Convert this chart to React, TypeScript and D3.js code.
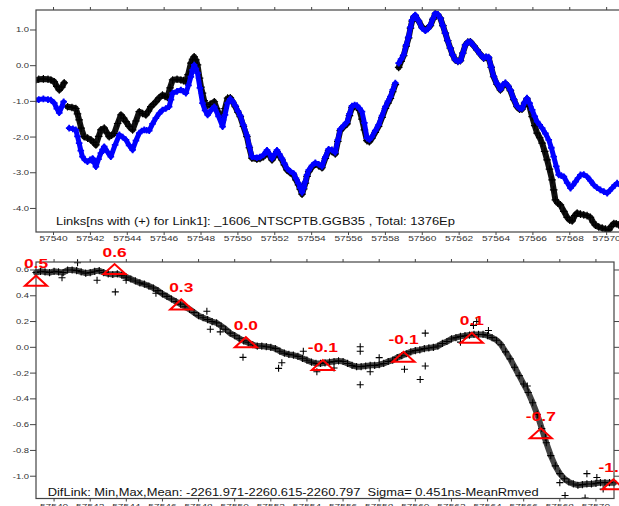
import React from "react";
import * as d3 from "d3";

// ---------- data (MJD day, ns) ----------
const link1: [number, number][] = [
  [57538.98,-0.42],[57539.2,-0.38],[57539.45,-0.37],[57539.7,-0.38],[57539.86,-0.40],[57540.04,-0.45],[57540.18,-0.58],[57540.31,-0.68],[57540.45,-0.6],[57540.58,-0.48],
  [57540.76,-1.15],[57541.0,-1.17],[57541.21,-1.2],[57541.3,-1.35],[57541.39,-1.52],[57541.5,-1.75],[57541.66,-1.99],[57541.85,-2.03],[57542.03,-2.08],[57542.18,-2.15],[57542.3,-2.22],[57542.45,-1.98],[57542.57,-1.8],[57542.75,-1.75],[57542.9,-1.88],[57543.02,-1.99],[57543.15,-1.95],[57543.29,-1.9],[57543.48,-1.62],[57543.66,-1.38],[57543.8,-1.47],[57543.93,-1.57],[57544.1,-1.7],[57544.29,-1.8],[57544.47,-1.55],[57544.65,-1.29],[57544.83,-1.34],[57545.01,-1.38],[57545.15,-1.27],[57545.28,-1.15],[57545.42,-1.08],[57545.55,-1.01],[57545.73,-0.9],[57545.91,-0.82],[57546.05,-0.86],[57546.18,-0.89],[57546.32,-0.62],[57546.46,-0.4],[57546.7,-0.38],[57546.91,-0.4],[57547.05,-0.42],[57547.18,-0.45],[57547.3,-0.25],[57547.45,0.07],[57547.54,0.18],[57547.63,0.25],[57547.72,0.16],[57547.81,0.02],[57547.92,-0.35],[57548.0,-0.6],[57548.08,-0.77],[57548.17,-0.98],[57548.27,-1.15],[57548.5,-1.08],[57548.72,-1.01],[57548.85,-1.2],[57549.0,-1.38],[57549.17,-1.52],[57549.3,-1.2],[57549.44,-0.91],[57549.59,-0.9],[57549.72,-1.02],[57549.86,-1.15],[57550.0,-1.3],[57550.13,-1.43],[57550.3,-1.7],[57550.49,-1.99],[57550.62,-2.3],[57550.76,-2.59],[57551.03,-2.62],[57551.2,-2.6],[57551.39,-2.55],[57551.58,-2.41],[57551.72,-2.52],[57551.85,-2.64],[57552.0,-2.52],[57552.12,-2.41],[57552.25,-2.52],[57552.39,-2.64],[57552.52,-2.78],[57552.66,-2.92],[57552.84,-3.0],[57553.02,-3.06],[57553.15,-3.2],[57553.29,-3.34],[57553.38,-3.46],[57553.48,-3.6],[57553.57,-3.45],[57553.66,-3.29],[57553.75,-3.1],[57553.84,-2.97],[57554.02,-2.84],[57554.2,-2.76],[57554.38,-2.8],[57554.56,-2.86],[57554.74,-2.6],[57554.92,-2.38],[57555.1,-2.4],[57555.28,-2.47],[57555.42,-2.12],[57555.55,-1.82],[57555.73,-1.72],[57555.92,-1.63],[57556.05,-1.4],[57556.19,-1.17],[57556.33,-1.14],[57556.46,-1.15],[57556.6,-1.25],[57556.73,-1.5],[57556.86,-1.8],[57557.0,-2.1],[57557.13,-2.13],[57557.27,-2.03],[57557.45,-1.87],[57557.63,-1.7],[57557.82,-1.45],[57558.0,-1.2],[57558.14,-1.05],[57558.27,-0.92],[57558.4,-0.73],[57558.54,-0.53],
  [57558.72,-0.05],[57558.85,0.12],[57558.99,0.28],[57559.13,0.55],[57559.26,0.78],[57559.36,1.05],[57559.45,1.25],[57559.54,1.36],[57559.62,1.4],[57559.8,1.25],[57559.99,1.08],[57560.17,1.0],[57560.31,1.06],[57560.44,1.12],[57560.58,1.3],[57560.71,1.45],[57560.85,1.42],[57560.98,1.33],[57561.12,1.12],[57561.25,0.91],[57561.38,0.7],[57561.52,0.49],[57561.65,0.3],[57561.79,0.16],[57561.93,0.12],[57562.07,0.14],[57562.2,0.35],[57562.34,0.58],[57562.47,0.66],[57562.61,0.67],[57562.79,0.56],[57562.97,0.44],[57563.15,0.32],[57563.33,0.21],[57563.46,0.23],[57563.6,0.22],[57563.74,-0.05],[57563.87,-0.31],[57564.05,-0.52],[57564.24,-0.68],[57564.38,-0.55],[57564.51,-0.5],[57564.65,-0.58],[57564.78,-0.7],[57564.96,-0.95],[57565.14,-1.15],[57565.28,-1.22],[57565.41,-1.22],[57565.55,-1.05],[57565.68,-0.93],[57565.82,-1.15],[57565.96,-1.43],[57566.1,-1.68],[57566.23,-1.89],[57566.37,-2.02],[57566.5,-2.17],[57566.64,-2.4],[57566.77,-2.64],[57566.9,-2.9],[57567.04,-3.2],[57567.13,-3.48],[57567.22,-3.76],[57567.35,-3.85],[57567.49,-3.9],[57567.68,-4.08],[57567.86,-4.25],[57568.0,-4.33],[57568.13,-4.35],[57568.27,-4.2],[57568.4,-4.13],[57568.58,-4.16],[57568.76,-4.18],[57568.94,-4.2],[57569.12,-4.25],[57569.26,-4.38],[57569.39,-4.47],[57569.57,-4.52],[57569.76,-4.55],[57569.94,-4.58],[57570.12,-4.6],[57570.25,-4.5],[57570.39,-4.42],[57570.52,-4.43],[57570.66,-4.46],[57570.85,-4.5]
];

const link2: [number, number][] = [
  [57538.98,-0.97],[57539.2,-0.95],[57539.45,-0.93],[57539.7,-0.95],[57539.86,-0.96],[57540.04,-1.05],[57540.18,-1.2],[57540.31,-1.32],[57540.45,-1.15],[57540.55,-1.01],
  [57540.85,-1.75],[57541.05,-1.77],[57541.21,-1.8],[57541.3,-1.98],[57541.39,-2.17],[57541.48,-2.38],[57541.57,-2.55],[57541.7,-2.64],[57541.84,-2.69],[57541.98,-2.64],[57542.12,-2.6],[57542.21,-2.72],[57542.3,-2.83],[57542.44,-2.62],[57542.57,-2.45],[57542.66,-2.35],[57542.75,-2.27],[57542.93,-2.42],[57543.11,-2.55],[57543.34,-2.22],[57543.57,-1.94],[57543.75,-2.0],[57543.93,-2.08],[57544.1,-2.23],[57544.29,-2.36],[57544.47,-2.1],[57544.65,-1.89],[57544.78,-1.83],[57544.92,-1.8],[57545.05,-1.81],[57545.19,-1.82],[57545.37,-1.63],[57545.55,-1.47],[57545.73,-1.34],[57545.91,-1.24],[57546.09,-1.2],[57546.27,-1.15],[57546.37,-0.95],[57546.46,-0.77],[57546.7,-0.72],[57546.91,-0.68],[57547.05,-0.72],[57547.18,-0.77],[57547.32,-0.55],[57547.45,-0.31],[57547.54,-0.12],[57547.63,0.02],[57547.72,-0.08],[57547.81,-0.21],[57547.94,-0.62],[57548.08,-1.05],[57548.22,-1.25],[57548.36,-1.38],[57548.54,-1.25],[57548.72,-1.15],[57548.95,-1.42],[57549.17,-1.71],[57549.3,-1.38],[57549.44,-1.05],[57549.59,-0.93],[57549.72,-1.0],[57549.86,-1.12],[57550.0,-1.27],[57550.13,-1.4],[57550.3,-1.66],[57550.49,-1.95],[57550.62,-2.26],[57550.76,-2.55],[57551.03,-2.58],[57551.2,-2.56],[57551.39,-2.5],[57551.58,-2.37],[57551.72,-2.48],[57551.85,-2.6],[57552.0,-2.48],[57552.12,-2.37],[57552.25,-2.48],[57552.39,-2.6],[57552.52,-2.74],[57552.66,-2.88],[57552.84,-2.96],[57553.02,-3.02],[57553.15,-3.16],[57553.29,-3.3],[57553.38,-3.42],[57553.48,-3.55],[57553.57,-3.42],[57553.66,-3.25],[57553.75,-3.06],[57553.84,-2.93],[57554.02,-2.8],[57554.2,-2.72],[57554.38,-2.76],[57554.56,-2.82],[57554.74,-2.56],[57554.92,-2.34],[57555.1,-2.36],[57555.28,-2.43],[57555.42,-2.08],[57555.55,-1.78],[57555.73,-1.68],[57555.92,-1.58],[57556.05,-1.35],[57556.19,-1.13],[57556.33,-1.1],[57556.46,-1.12],[57556.6,-1.2],[57556.73,-1.29],[57556.86,-1.6],[57557.0,-2.03],[57557.13,-2.07],[57557.27,-1.99],[57557.45,-1.82],[57557.63,-1.66],[57557.82,-1.4],[57558.0,-1.15],[57558.14,-1.0],[57558.27,-0.87],[57558.4,-0.68],[57558.54,-0.49],
  [57558.72,0.07],[57558.85,0.18],[57558.99,0.3],[57559.13,0.58],[57559.26,0.81],[57559.36,1.08],[57559.45,1.28],[57559.54,1.38],[57559.62,1.42],[57559.8,1.26],[57559.99,1.05],[57560.17,0.98],[57560.31,1.03],[57560.44,1.14],[57560.58,1.32],[57560.71,1.47],[57560.85,1.44],[57560.98,1.33],[57561.12,1.12],[57561.25,0.91],[57561.38,0.7],[57561.52,0.49],[57561.65,0.3],[57561.79,0.16],[57561.93,0.12],[57562.07,0.14],[57562.2,0.35],[57562.34,0.58],[57562.47,0.66],[57562.61,0.67],[57562.79,0.56],[57562.97,0.44],[57563.15,0.32],[57563.33,0.21],[57563.46,0.25],[57563.6,0.24],[57563.74,-0.03],[57563.87,-0.29],[57564.05,-0.5],[57564.24,-0.66],[57564.38,-0.53],[57564.51,-0.48],[57564.65,-0.56],[57564.78,-0.68],[57564.96,-0.93],[57565.14,-1.13],[57565.28,-1.2],[57565.41,-1.2],[57565.55,-1.03],[57565.68,-0.91],[57565.82,-1.05],[57565.96,-1.24],[57566.1,-1.42],[57566.23,-1.57],[57566.37,-1.66],[57566.5,-1.75],[57566.68,-1.9],[57566.86,-2.08],[57567.0,-2.3],[57567.13,-2.55],[57567.27,-2.82],[57567.4,-3.06],[57567.54,-3.08],[57567.68,-3.11],[57567.86,-3.28],[57568.04,-3.43],[57568.17,-3.35],[57568.31,-3.25],[57568.45,-3.15],[57568.58,-3.06],[57568.76,-3.05],[57568.94,-3.11],[57569.12,-3.22],[57569.3,-3.34],[57569.48,-3.42],[57569.66,-3.48],[57569.85,-3.53],[57570.03,-3.57],[57570.17,-3.5],[57570.3,-3.43],[57570.44,-3.35],[57570.57,-3.29],[57570.75,-3.35]
];

// days where the link series have no data (breaks in the traces)
const topGaps = [57540.66, 57558.63];

const difLink: [number, number][] = [
  [57539.0,0.58],[57539.25,0.59],[57539.5,0.585],[57539.75,0.58],[57540.0,0.59],[57540.25,0.585],[57540.5,0.58],[57540.75,0.6],[57541.0,0.6],[57541.25,0.595],[57541.5,0.585],[57541.75,0.575],[57542.0,0.58],[57542.25,0.59],[57542.5,0.595],[57542.75,0.58],[57543.0,0.57],[57543.25,0.565],[57543.5,0.57],[57543.75,0.56],[57544.0,0.545],[57544.25,0.53],[57544.5,0.515],[57544.75,0.5],[57545.0,0.49],[57545.25,0.475],[57545.5,0.46],[57545.75,0.44],[57546.0,0.415],[57546.25,0.395],[57546.5,0.375],[57546.75,0.355],[57547.0,0.335],[57547.25,0.315],[57547.5,0.295],[57547.75,0.27],[57548.0,0.245],[57548.25,0.23],[57548.5,0.215],[57548.75,0.2],[57549.0,0.19],[57549.25,0.165],[57549.5,0.14],[57549.75,0.11],[57550.0,0.09],[57550.25,0.07],[57550.5,0.05],[57550.75,0.035],[57551.0,0.02],[57551.25,0.01],[57551.5,0.01],[57551.75,0.005],[57552.0,0.0],[57552.25,-0.01],[57552.5,-0.03],[57552.75,-0.045],[57553.0,-0.055],[57553.25,-0.06],[57553.5,-0.07],[57553.75,-0.085],[57554.0,-0.1],[57554.25,-0.115],[57554.5,-0.125],[57554.75,-0.125],[57555.0,-0.12],[57555.25,-0.115],[57555.5,-0.11],[57555.75,-0.105],[57556.0,-0.11],[57556.25,-0.125],[57556.5,-0.14],[57556.75,-0.15],[57557.0,-0.15],[57557.25,-0.145],[57557.5,-0.14],[57557.75,-0.14],[57558.0,-0.135],[57558.25,-0.125],[57558.5,-0.11],[57558.75,-0.1],[57559.0,-0.08],[57559.25,-0.065],[57559.5,-0.05],[57559.75,-0.035],[57560.0,-0.025],[57560.25,-0.02],[57560.5,-0.01],[57560.75,-0.005],[57561.0,0.0],[57561.25,0.01],[57561.5,0.03],[57561.75,0.045],[57562.0,0.065],[57562.25,0.075],[57562.5,0.085],[57562.75,0.09],[57563.0,0.095],[57563.25,0.1],[57563.5,0.1],[57563.75,0.1],[57564.0,0.09],[57564.25,0.075],[57564.5,0.055],[57564.75,0.02],[57565.0,-0.035],[57565.25,-0.09],[57565.5,-0.155],[57565.75,-0.22],[57566.0,-0.285],[57566.25,-0.35],[57566.5,-0.43],[57566.75,-0.52],[57567.0,-0.63],[57567.25,-0.74],[57567.5,-0.84],[57567.75,-0.92],[57568.0,-0.98],[57568.25,-1.02],[57568.5,-1.045],[57568.75,-1.06],[57569.0,-1.07],[57569.25,-1.065],[57569.5,-1.06],[57569.75,-1.06],[57570.0,-1.055],[57570.25,-1.05],[57570.5,-1.05],[57570.75,-1.05],[57571.0,-1.05]
];

const difOutliers: [number, number][] = [
  [57541.3,0.656],[57540.44,0.54],[57542.38,0.52],[57543.39,0.43],[57543.99,0.52],[57545.64,0.42],[57548.46,0.28],[57548.65,0.14],[57549.2,0.12],[57550.46,-0.078],[57552.43,-0.163],[57552.61,-0.12],[57554.55,-0.19],[57556.95,0.005],[57556.95,-0.03],[57556.95,-0.29],[57560.55,0.11],[57560.27,-0.25],[57560.55,-0.145],[57559.4,-0.17],[57563.22,0.17],[57564.05,0.13],[57563.4,0.2],[57568.29,-1.15],[57569.4,-1.17],[57569.5,-0.98],[57570.05,-1.01],[57570.4,-1.1],
  [57557.5,-0.19],[57558.0,-0.08],[57553.8,-0.03],[57555.5,-0.16],[57562.5,0.04],[57566.2,-0.3],[57567.2,-0.7],[57568.0,-1.05]
];

const markerDays = [57539.0, 57543.35, 57547.04, 57550.62, 57554.88, 57559.35, 57563.13, 57566.95, 57570.97];
const markerValues = [0.517, 0.607, 0.333, 0.04, -0.137, -0.073, 0.074, -0.667, -1.063];
const markerLabels = ["0.5", "0.6", "0.3", "0.0", "-0.1", "-0.1", "0.1", "-0.7", "-1.1"];

const xTicks = [57540, 57542, 57544, 57546, 57548, 57550, 57552, 57554, 57556, 57558, 57560, 57562, 57564, 57566, 57568, 57570];
const topYTicks = [1, 0, -1, -2, -3, -4];
const botYTicks = [0.6, 0.4, 0.2, 0.0, -0.2, -0.4, -0.6, -0.8, -1.0];

const topTitle = "Links[ns with (+) for Link1]: _1606_NTSCPTB.GGB35 , Total: 1376Ep";
const botTitle = "DifLink: Min,Max,Mean: -2261.971-2260.615-2260.797  Sigma= 0.451ns-MeanRmved";

// ---------- layout ----------
const W = 619, H = 506;
const FONT = "'Liberation Sans', Arial, sans-serif";
const AXIS = "#444";
const LBL = "#333";

const top = { l: 36, r: 626, t: 10, b: 232 };
const bot = { l: 36, r: 614, t: 262, b: 498.5 };

const xTop = d3.scaleLinear().domain([57539.05, 57571.05]).range([top.l, top.r]);
const yTop = d3.scaleLinear().domain([-4.66, 1.56]).range([top.b, top.t]);
const xBot = d3.scaleLinear().domain([57539, 57571]).range([bot.l, bot.r]);
const yBot = d3.scaleLinear().domain([-1.173, 0.662]).range([bot.b, bot.t]);

// split a series at the given break days
function segments(data: [number, number][], gaps: number[]): [number, number][][] {
  const out: [number, number][][] = [];
  let cur: [number, number][] = [];
  data.forEach((p, i) => {
    if (i > 0 && gaps.some((g) => data[i - 1][0] < g && p[0] > g)) { out.push(cur); cur = []; }
    cur.push(p);
  });
  if (cur.length) out.push(cur);
  return out;
}

function SText({ x, y, sx = 1.45, anchor = "middle", size = 7, fill = LBL, weight = "normal", children }: any) {
  return (
    <text
      transform={`translate(${x},${y}) scale(${sx},1)`}
      textAnchor={anchor}
      fontSize={size}
      fontFamily={FONT}
      fill={fill}
      fontWeight={weight}
    >
      {children}
    </text>
  );
}

function Marks({ data, x, y, color, size, sw }: any) {
  const d = (data as [number, number][])
    .map(([a, b]) => `M${x(a) - size},${y(b)}h${2 * size}M${x(a)},${y(b) - size}v${2 * size}`)
    .join("");
  return <path d={d} stroke={color} strokeWidth={sw} fill="none" />;
}

function Band({ data, gaps, x, y, color, width, opacity = 1 }: any) {
  const line = d3.line<[number, number]>().x((p) => x(p[0])).y((p) => y(p[1])).curve(d3.curveLinear);
  return (
    <g>
      {segments(data, gaps).map((s, i) => (
        <path key={i} d={line(s) || ""} fill="none" stroke={color} strokeWidth={width} strokeOpacity={opacity} strokeLinejoin="round" strokeLinecap="round" />
      ))}
    </g>
  );
}

export default function App() {
  return (
    <svg width={W} height={H} style={{ position: "absolute", left: 0, top: 0, background: "#fff" }}>
      <defs>
        <clipPath id="ctop"><rect x={top.l} y={top.t} width={top.r - top.l} height={top.b - top.t} /></clipPath>
        <clipPath id="cbot"><rect x={bot.l - 12} y={bot.t - 30} width={bot.r - bot.l + 30} height={bot.b - bot.t + 30} /></clipPath>
      </defs>
      <rect x={0} y={0} width={W} height={H} fill="#fff" />

      {/* ---------- top panel ---------- */}
      <g clipPath="url(#ctop)">
        <Band data={link1} gaps={topGaps} x={xTop} y={yTop} color="#111" width={6} />
        <Marks data={link1} x={xTop} y={yTop} color="#000" size={3.8} sw={1.2} />
        <Band data={link2} gaps={topGaps} x={xTop} y={yTop} color="#0000ff" width={5} />
        <Marks data={link2} x={xTop} y={yTop} color="#0000ff" size={3.3} sw={1.8} />
      </g>
      <rect x={top.l} y={top.t} width={top.r - top.l} height={top.b - top.t} fill="none" stroke={AXIS} strokeWidth={1.2} />
      {xTicks.map((t) => (
        <g key={"tx" + t}>
          <line x1={xTop(t)} x2={xTop(t)} y1={top.t} y2={top.t - 3} stroke={AXIS} />
          <line x1={xTop(t)} x2={xTop(t)} y1={top.b} y2={top.b + 3} stroke={AXIS} />
          <SText x={xTop(t)} y={241}>{String(t)}</SText>
        </g>
      ))}
      {topYTicks.map((t) => (
        <g key={"ty" + t}>
          <line x1={top.l} x2={top.l - 6} y1={yTop(t)} y2={yTop(t)} stroke={AXIS} />
          <SText x={29} y={yTop(t) + 2.5} anchor="end" sx={1.35}>{t.toFixed(1)}</SText>
        </g>
      ))}
      <text x={56} y={225} fontSize={10.5} fontFamily={FONT} fill="#111" textLength={399} lengthAdjust="spacingAndGlyphs">{topTitle}</text>

      {/* ---------- bottom panel ---------- */}
      <g clipPath="url(#cbot)">
        <Band data={difLink} gaps={[]} x={xBot} y={yBot} color="#222" width={6} opacity={0.85} />
        <Marks data={difLink} x={xBot} y={yBot} color="#000" size={3.6} sw={1.1} />
        <Marks data={difOutliers} x={xBot} y={yBot} color="#000" size={3.5} sw={1.1} />
      </g>
      <rect x={bot.l} y={bot.t} width={bot.r - bot.l} height={bot.b - bot.t} fill="none" stroke={AXIS} strokeWidth={1.2} />
      {xTicks.map((t) => (
        <g key={"bx" + t}>
          <line x1={xBot(t)} x2={xBot(t)} y1={bot.t} y2={bot.t - 3} stroke={AXIS} />
          <line x1={xBot(t)} x2={xBot(t)} y1={bot.b} y2={bot.b + 3} stroke={AXIS} />
          <SText x={xBot(t)} y={508.5}>{String(t)}</SText>
        </g>
      ))}
      {botYTicks.map((t) => (
        <g key={"by" + t}>
          <line x1={bot.l} x2={bot.l - 6} y1={yBot(t)} y2={yBot(t)} stroke={AXIS} />
          <line x1={bot.r} x2={bot.r + 5} y1={yBot(t)} y2={yBot(t)} stroke={AXIS} />
          <SText x={29} y={yBot(t) + 2.5} anchor="end" sx={1.35}>{t.toFixed(1)}</SText>
        </g>
      ))}
      <text x={47.7} y={496} fontSize={10.5} fontFamily={FONT} fill="#111" textLength={491} lengthAdjust="spacingAndGlyphs" style={{ whiteSpace: "pre" }}>{botTitle}</text>

      {markerDays.map((d, i) => {
        const cx = xBot(d), cy = yBot(markerValues[i]);
        return (
          <g key={"m" + i}>
            <path d={`M${cx - 11},${cy + 5}L${cx + 11},${cy + 5}L${cx},${cy - 5}Z`} fill="none" stroke="#ff0000" strokeWidth={2} />
            <SText x={cx} y={cy - 12.5} size={12} sx={1.45} fill="#ff0000" weight="bold">{markerLabels[i]}</SText>
          </g>
        );
      })}
    </svg>
  );
}
